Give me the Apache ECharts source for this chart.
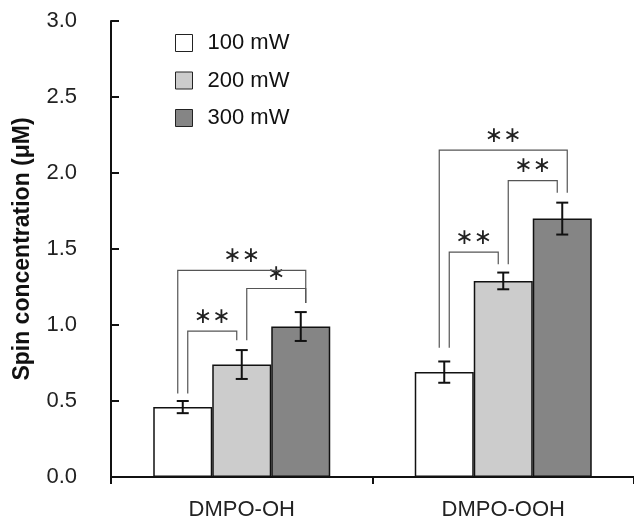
<!DOCTYPE html>
<html>
<head>
<meta charset="utf-8">
<script src="https://cdn.jsdelivr.net/npm/echarts@6/dist/echarts.min.js"></script>
<style>
  html, body { margin: 0; padding: 0; background: #fff; }
  #main { width: 634px; height: 523px; }
</style>
</head>
<body>
<div id="main"></div>
<script>
// data
var categories = ['DMPO-OH', 'DMPO-OOH'];
var seriesNames = ['100 mW', '200 mW', '300 mW'];
var mean100 = [0.46, 0.69];
var mean200 = [0.74, 1.29];
var mean300 = [0.99, 1.70];
var err100 = [0.04, 0.07];
var err200 = [0.095, 0.055];
var err300 = [0.095, 0.105];
// brackets: category, left bar, right bar, left leg side, right leg side, left leg bottom, right leg bottom, top, label
var brackets = [
  [0, 0, 1, 1, -1, 0.55, 0.90, 0.96, '∗∗'],
  [0, 1, 2, 1, 1, 0.90, 1.145, 1.24, '∗'],
  [0, 0, 2, -1, 1, 0.55, 1.145, 1.36, '∗∗'],
  [1, 0, 1, 1, -1, 0.85, 1.40, 1.48, '∗∗'],
  [1, 1, 2, 1, -1, 1.40, 1.87, 1.95, '∗∗'],
  [1, 0, 2, -1, 1, 0.85, 1.87, 2.15, '∗∗']
];
var yTicks = [0, 0.5, 1.0, 1.5, 2.0, 2.5, 3.0];

var BAR_W = 59;
var LEG_OFF = 5;
var means = [mean100, mean200, mean300];
var errs = [err100, err200, err300];
var colors = ['#ffffff', '#cccccc', '#858585'];

var errData = [];
for (var s = 0; s < 3; s++) {
  for (var c = 0; c < categories.length; c++) {
    errData.push([c, s, means[s][c], errs[s][c]]);
  }
}

var myChart = echarts.init(document.getElementById('main'));
var font = 'Liberation Sans, Arial, sans-serif';

var series = [];
for (var i = 0; i < 3; i++) {
  series.push({
    name: seriesNames[i],
    type: 'bar',
    data: means[i],
    barWidth: BAR_W,
    barGap: '0%',
    itemStyle: { color: colors[i], borderColor: '#111', borderWidth: 1.5 },
    emphasis: { disabled: true }
  });
}

series.push({
  type: 'custom',
  data: errData,
  encode: { x: 0, y: 2 },
  z: 5,
  renderItem: function (params, api) {
    var c = api.value(0), s = api.value(1), m = api.value(2), e = api.value(3);
    var x = api.coord([c, 0])[0] + (s - 1) * BAR_W;
    var yHi = api.coord([c, m + e])[1];
    var yLo = api.coord([c, m - e])[1];
    var cap = 6;
    var st = { stroke: '#111', lineWidth: 2 };
    return {
      type: 'group',
      children: [
        { type: 'line', shape: { x1: x, y1: yHi, x2: x, y2: yLo }, style: st },
        { type: 'line', shape: { x1: x - cap, y1: yHi, x2: x + cap, y2: yHi }, style: st },
        { type: 'line', shape: { x1: x - cap, y1: yLo, x2: x + cap, y2: yLo }, style: st }
      ]
    };
  }
});

series.push({
  type: 'custom',
  data: brackets,
  encode: { x: 0, y: 7 },
  z: 4,
  renderItem: function (params, api) {
    var b = brackets[params.dataIndex];
    var cx = api.coord([b[0], 0])[0];
    var xl = cx + (b[1] - 1) * BAR_W + b[3] * LEG_OFF;
    var xr = cx + (b[2] - 1) * BAR_W + b[4] * LEG_OFF;
    var yl = api.coord([b[0], b[5]])[1];
    var yr = api.coord([b[0], b[6]])[1];
    var yt = api.coord([b[0], b[7]])[1];
    return {
      type: 'group',
      children: [
        {
          type: 'polyline',
          shape: { points: [[xl, yl], [xl, yt], [xr, yt], [xr, yr]] },
          style: { stroke: '#555', lineWidth: 1.2, fill: null }
        },
        {
          type: 'text',
          x: (xl + xr) / 2,
          y: yt - 3,
          style: {
            text: b[8],
            fontSize: 22,
            fontFamily: 'DejaVu Sans, sans-serif',
            fill: '#222',
            align: 'center',
            verticalAlign: 'bottom'
          }
        }
      ]
    };
  }
});

var option = {
  animation: false,
  backgroundColor: '#fff',
  grid: { left: 111, right: -3, top: 21, bottom: 46 },
  legend: {
    data: seriesNames,
    orient: 'vertical',
    left: 170,
    top: 27,
    icon: 'rect',
    itemWidth: 17,
    itemHeight: 17,
    itemGap: 15.5,
    itemStyle: { borderColor: '#222', borderWidth: 1 },
    textStyle: { fontSize: 22, color: '#111', fontFamily: font, padding: [0, 0, 0, 10] }
  },
  xAxis: {
    type: 'category',
    data: categories,
    axisLine: { lineStyle: { color: '#111', width: 2 } },
    axisTick: { show: true, length: 7, lineStyle: { color: '#111', width: 2 } },
    axisLabel: { fontSize: 22, color: '#222', fontFamily: font, margin: 22 }
  },
  yAxis: {
    type: 'value',
    min: yTicks[0],
    max: yTicks[yTicks.length - 1],
    interval: 0.5,
    name: 'Spin concentration (μM)',
    nameLocation: 'middle',
    nameGap: 77,
    nameTextStyle: { fontSize: 23, fontWeight: 'bold', color: '#111', fontFamily: font },
    axisLine: { show: true, lineStyle: { color: '#111', width: 2 } },
    axisTick: { show: true, inside: true, length: 8, lineStyle: { color: '#111', width: 2 } },
    axisLabel: {
      fontSize: 22, color: '#222', fontFamily: font, margin: 34,
      formatter: function (v) { return v.toFixed(1); }
    },
    splitLine: { show: false }
  },
  series: series
};

myChart.setOption(option);
</script>
</body>
</html>
